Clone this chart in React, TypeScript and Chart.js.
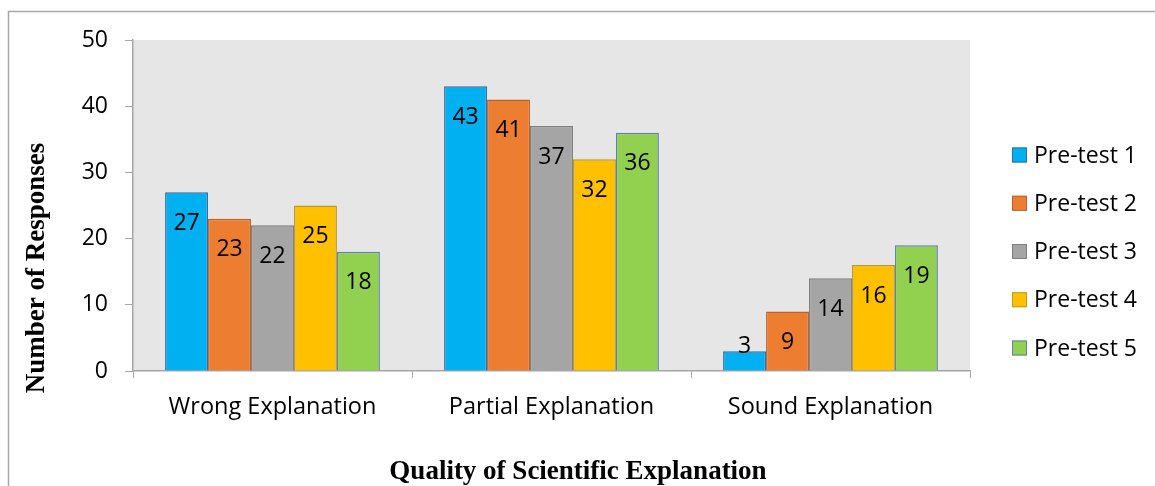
import React, { useEffect, useRef } from "react";
import { Chart, registerables } from "chart.js";

Chart.register(...registerables);

const categories = ["Wrong Explanation", "Partial Explanation", "Sound Explanation"];
const seriesNames = ["Pre-test 1", "Pre-test 2", "Pre-test 3", "Pre-test 4", "Pre-test 5"];
const preTest1 = [27, 43, 3];
const preTest2 = [23, 41, 9];
const preTest3 = [22, 37, 14];
const preTest4 = [25, 32, 16];
const preTest5 = [18, 36, 19];
const seriesValues = [preTest1, preTest2, preTest3, preTest4, preTest5];
const fillColors = ["#00b0f0", "#ed7d31", "#a5a5a5", "#ffc000", "#92d050"];
const borderColors = ["#2f6eaa", "#b8642a", "#7f7f7f", "#c09a20", "#5f86a8"];
const yTitle = "Number of Responses";
const xTitle = "Quality of Scientific Explanation";

const SANS = "'Open Sans', sans-serif";
const SERIF = "'Liberation Serif', 'Times New Roman', serif";

const framePlugin = {
  id: "frame",
  beforeDraw(chart: any) {
    const { ctx, chartArea } = chart;
    ctx.save();
    ctx.strokeStyle = "#a8a8a8";
    ctx.lineWidth = 1.5;
    ctx.beginPath();
    ctx.moveTo(8.5, chart.height);
    ctx.lineTo(8.5, 11.5);
    ctx.lineTo(chart.width, 11.5);
    ctx.stroke();
    ctx.fillStyle = "#e6e6e6";
    ctx.fillRect(chartArea.left, chartArea.top, chartArea.right - chartArea.left, chartArea.bottom - chartArea.top);
    ctx.restore();
  },
  afterDraw(chart: any) {
    const { ctx } = chart;
    ctx.save();
    ctx.font = `bold 27px ${SERIF}`;
    ctx.fillStyle = "#000";
    ctx.textAlign = "center";
    ctx.textBaseline = "middle";
    ctx.fillText(xTitle, 578, 472);
    ctx.translate(37, 268);
    ctx.rotate(-Math.PI / 2);
    ctx.fillText(yTitle, 0, 0);
    ctx.restore();
  },
};

const labelPlugin = {
  id: "barLabels",
  afterDatasetsDraw(chart: any) {
    const { ctx } = chart;
    ctx.save();
    ctx.font = `23px ${SANS}`;
    ctx.fillStyle = "#000";
    ctx.textAlign = "center";
    ctx.textBaseline = "middle";
    chart.data.datasets.forEach((ds: any, i: number) => {
      const meta = chart.getDatasetMeta(i);
      meta.data.forEach((bar: any, j: number) => {
        const h = bar.base - bar.y;
        const y = h > 58 ? bar.y + 31 : bar.base - 24;
        ctx.fillText(String(ds.data[j]), bar.x, y);
      });
    });
    ctx.restore();
  },
};

const legendPlugin = {
  id: "customLegend",
  afterDraw(chart: any) {
    const { ctx } = chart;
    ctx.save();
    ctx.font = `23px ${SANS}`;
    ctx.textAlign = "left";
    ctx.textBaseline = "middle";
    seriesNames.forEach((name, i) => {
      const cy = 155 + i * 48.25;
      ctx.fillStyle = fillColors[i];
      ctx.fillRect(1012, cy - 7.5, 15, 15);
      ctx.strokeStyle = borderColors[i];
      ctx.lineWidth = 1;
      ctx.strokeRect(1012.5, cy - 7, 14, 14);
      ctx.fillStyle = "#000";
      ctx.fillText(name, 1034, cy + 1);
    });
    ctx.restore();
  },
};

export default function App() {
  const ref = useRef<HTMLCanvasElement | null>(null);
  useEffect(() => {
    if (!ref.current) return;
    const chart = new Chart(ref.current, {
      type: "bar",
      data: {
        labels: categories,
        datasets: seriesNames.map((n, i) => ({
          label: n,
          data: seriesValues[i],
          backgroundColor: fillColors[i],
          borderColor: borderColors[i],
          borderWidth: 1.5,
          categoryPercentage: 0.77,
          barPercentage: 1.0,
        })),
      },
      options: {
        animation: false,
        responsive: true,
        maintainAspectRatio: false,
        layout: { padding: { top: 40, right: 185, left: 0, bottom: 0 } },
        plugins: {
          legend: { display: false },
          tooltip: { enabled: false },
        },
        scales: {
          x: {
            grid: { drawOnChartArea: false, drawTicks: true, tickLength: 7, color: "#a6a6a6", offset: true },
            border: { display: true, color: "#a6a6a6", width: 1.5 },
            ticks: { color: "#000", font: { family: SANS, size: 23.5 }, padding: 15, maxRotation: 0 },
            afterFit(scale: any) {
              scale.height = 115;
            },
          },
          y: {
            min: 0,
            max: 50,
            ticks: { stepSize: 10, color: "#000", font: { family: SANS, size: 23 }, padding: 17 },
            grid: { drawOnChartArea: false, drawTicks: true, tickLength: 8, color: "#a6a6a6" },
            border: { display: true, color: "#a6a6a6", width: 1.5 },
            afterFit(scale: any) {
              scale.width = 133;
            },
          },
        },
      },
      plugins: [framePlugin, labelPlugin, legendPlugin],
    });
    return () => chart.destroy();
  }, []);
  return (
    <div style={{ position: "absolute", left: 0, top: 0, width: 1155, height: 486, background: "#fff" }}>
      <canvas ref={ref} />
    </div>
  );
}
